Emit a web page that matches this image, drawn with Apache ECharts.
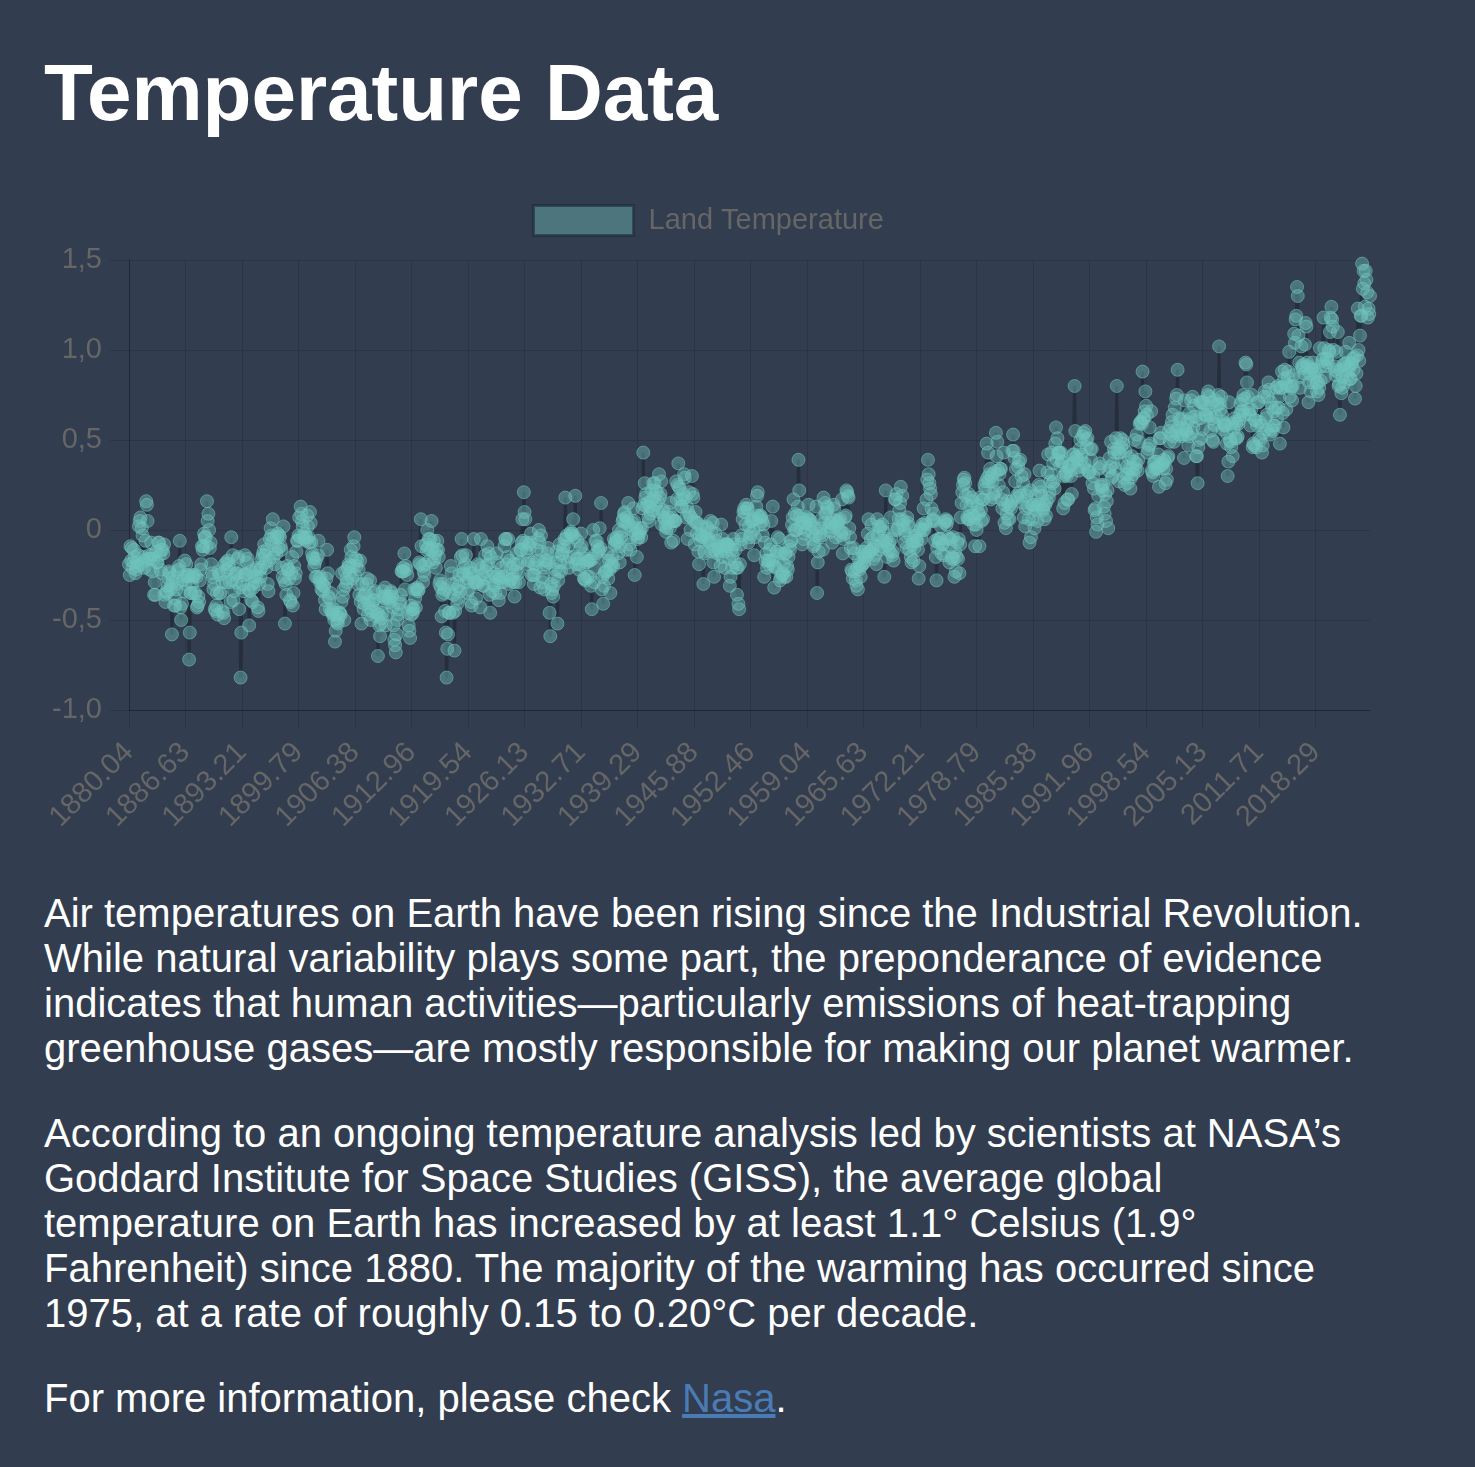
<!DOCTYPE html>
<html>
<head>
<meta charset="utf-8">
<title>Temperature Data</title>
<script src="https://cdn.jsdelivr.net/npm/echarts@6/dist/echarts.min.js"></script>
<style>
	html, body { margin: 0; padding: 0; background: #323d4f; }
	body { width: 1475px; height: 1467px; position: relative; overflow: hidden;
		font-family: "Liberation Sans", Arial, Helvetica, sans-serif; color: #fff; }
	h1 { position: absolute; left: 44px; top: 53px; margin: 0; font-size: 80px; line-height: 80px; font-weight: bold; }
	#myChart { position: absolute; left: 0; top: 180px; width: 1475px; height: 680px; }
	.text { position: absolute; left: 44px; top: 891px; width: 1340px; font-size: 40px; line-height: 45px; }
	.text p { margin: 0 0 40px 0; white-space: nowrap; }
	.text a { color: #4b7bb5; }
</style>
</head>
<body>
<h1>Temperature Data</h1>
<div id="myChart"></div>
<div class="text">
	<p>Air temperatures on Earth have been rising since the Industrial Revolution.<br>While natural variability plays some part, the preponderance of evidence<br>indicates that human activities—particularly emissions of heat-trapping<br>greenhouse gases—are mostly responsible for making our planet warmer.</p>
	<p>According to an ongoing temperature analysis led by scientists at NASA’s<br>Goddard Institute for Space Studies (GISS), the average global<br>temperature on Earth has increased by at least 1.1° Celsius (1.9°<br>Fahrenheit) since 1880. The majority of the warming has occurred since<br>1975, at a rate of roughly 0.15 to 0.20°C per decade.</p>
	<p>For more information, please check <a href="#">Nasa</a>.</p>
</div>
<script>
// monthly anomalies, one line per year (Jan..Dec)
var startYear = 1880;
var monthFractions = ['04', '13', '21', '29', '38', '46', '54', '63', '71', '79', '88', '96'];

var t1880s = [
	-0.19,-0.25,-0.09,-0.17,-0.10,-0.21,-0.18,-0.11,-0.15,-0.24,-0.22,-0.18,
	-0.20,-0.14,0.02,0.05,0.07,-0.19,0.01,-0.03,-0.15,-0.21,-0.17,-0.06,
	0.16,0.14,0.05,-0.16,-0.14,-0.22,-0.16,-0.07,-0.14,-0.23,-0.16,-0.36,
	-0.29,-0.36,-0.12,-0.18,-0.18,-0.07,-0.07,-0.14,-0.22,-0.11,-0.24,-0.11,
	-0.13,-0.08,-0.36,-0.40,-0.34,-0.35,-0.31,-0.27,-0.23,-0.24,-0.33,-0.31,
	-0.58,-0.29,-0.26,-0.42,-0.38,-0.42,-0.33,-0.30,-0.23,-0.22,-0.20,-0.06,
	-0.43,-0.50,-0.41,-0.28,-0.26,-0.34,-0.17,-0.30,-0.19,-0.25,-0.26,-0.25,
	-0.72,-0.57,-0.35,-0.35,-0.30,-0.25,-0.26,-0.35,-0.25,-0.35,-0.26,-0.43,
	-0.42,-0.37,-0.40,-0.28,-0.22,-0.19,-0.09,-0.11,-0.09,-0.02,-0.04,-0.04,
	-0.09,0.16,0.05,0.09,0.00,-0.10,-0.07,-0.19,-0.24,-0.26,-0.33,-0.30
];
var t1890s = [
	-0.44,-0.45,-0.42,-0.35,-0.47,-0.23,-0.25,-0.35,-0.35,-0.24,-0.45,-0.29,
	-0.46,-0.49,-0.19,-0.29,-0.18,-0.22,-0.17,-0.19,-0.21,-0.29,-0.40,-0.04,
	-0.28,-0.14,-0.39,-0.34,-0.25,-0.24,-0.29,-0.24,-0.16,-0.15,-0.44,-0.32,
	-0.82,-0.57,-0.23,-0.30,-0.34,-0.25,-0.14,-0.25,-0.24,-0.18,-0.16,-0.33,
	-0.53,-0.34,-0.23,-0.39,-0.30,-0.40,-0.32,-0.26,-0.29,-0.22,-0.26,-0.21,
	-0.43,-0.45,-0.30,-0.22,-0.26,-0.21,-0.16,-0.14,-0.12,-0.08,-0.14,-0.18,
	-0.21,-0.11,-0.30,-0.34,-0.17,-0.05,0.01,-0.03,-0.07,0.06,-0.15,-0.04,
	-0.19,-0.11,-0.13,-0.04,-0.02,-0.10,-0.03,-0.04,-0.09,-0.11,-0.21,-0.26,
	0.02,-0.28,-0.52,-0.30,-0.36,-0.20,-0.22,-0.22,-0.27,-0.39,-0.40,-0.24,
	-0.15,-0.42,-0.35,-0.20,-0.27,-0.24,-0.12,-0.06,-0.06,-0.03,0.07,-0.04
];
var t1900s = [
	0.13,0.09,0.05,0.02,-0.04,-0.05,-0.02,-0.06,-0.04,0.08,0.02,-0.04,
	-0.07,0.10,0.04,-0.07,-0.13,-0.15,-0.16,-0.20,-0.18,-0.26,-0.16,-0.26,
	-0.14,-0.06,-0.27,-0.29,-0.26,-0.33,-0.30,-0.34,-0.31,-0.31,-0.39,-0.44,
	-0.27,-0.11,-0.24,-0.37,-0.38,-0.44,-0.35,-0.45,-0.46,-0.47,-0.44,-0.50,
	-0.62,-0.56,-0.47,-0.51,-0.52,-0.49,-0.46,-0.46,-0.47,-0.40,-0.24,-0.37,
	-0.33,-0.50,-0.23,-0.31,-0.27,-0.29,-0.21,-0.19,-0.20,-0.24,-0.11,-0.15,
	-0.27,-0.20,-0.09,-0.04,-0.25,-0.16,-0.20,-0.17,-0.30,-0.22,-0.36,-0.17,
	-0.40,-0.52,-0.30,-0.37,-0.44,-0.41,-0.36,-0.35,-0.30,-0.27,-0.47,-0.40,
	-0.43,-0.28,-0.50,-0.45,-0.41,-0.39,-0.35,-0.39,-0.34,-0.46,-0.48,-0.45,
	-0.70,-0.47,-0.53,-0.59,-0.52,-0.49,-0.46,-0.34,-0.37,-0.38,-0.32,-0.53
];
var t1910s = [
	-0.37,-0.40,-0.47,-0.38,-0.37,-0.40,-0.34,-0.35,-0.37,-0.43,-0.53,-0.61,
	-0.64,-0.68,-0.58,-0.50,-0.47,-0.44,-0.41,-0.40,-0.36,-0.23,-0.23,-0.21,
	-0.23,-0.13,-0.33,-0.20,-0.22,-0.25,-0.46,-0.53,-0.56,-0.60,-0.42,-0.47,
	-0.44,-0.46,-0.44,-0.33,-0.38,-0.43,-0.33,-0.32,-0.34,-0.33,-0.18,-0.19,
	0.06,-0.09,-0.20,-0.29,-0.23,-0.25,-0.19,-0.08,-0.11,0.00,-0.10,-0.05,
	-0.17,-0.05,-0.11,0.05,-0.10,-0.18,-0.06,-0.16,-0.13,-0.21,-0.11,-0.06,
	-0.11,-0.15,-0.30,-0.28,-0.32,-0.48,-0.36,-0.30,-0.35,-0.33,-0.45,-0.57,
	-0.82,-0.66,-0.58,-0.46,-0.46,-0.35,-0.20,-0.24,-0.30,-0.46,-0.36,-0.67,
	-0.45,-0.33,-0.29,-0.41,-0.38,-0.31,-0.25,-0.34,-0.15,-0.05,-0.14,-0.24,
	-0.21,-0.25,-0.19,-0.14,-0.29,-0.35,-0.27,-0.33,-0.24,-0.21,-0.40,-0.42
];
var t1920s = [
	-0.24,-0.26,-0.05,-0.29,-0.29,-0.38,-0.29,-0.30,-0.19,-0.20,-0.28,-0.43,
	-0.05,-0.21,-0.25,-0.31,-0.31,-0.27,-0.14,-0.23,-0.20,-0.09,-0.19,-0.13,
	-0.36,-0.46,-0.15,-0.26,-0.34,-0.30,-0.24,-0.31,-0.35,-0.26,-0.13,-0.18,
	-0.25,-0.39,-0.27,-0.35,-0.29,-0.21,-0.26,-0.29,-0.26,-0.09,-0.05,-0.05,
	-0.19,-0.15,-0.05,-0.30,-0.17,-0.28,-0.21,-0.27,-0.25,-0.29,-0.19,-0.37,
	-0.29,-0.23,-0.13,-0.19,-0.24,-0.29,-0.18,-0.11,-0.11,-0.07,0.06,-0.06,
	0.21,0.10,0.06,-0.07,-0.12,-0.19,-0.17,-0.08,-0.10,-0.07,-0.02,-0.25,
	-0.18,-0.25,-0.30,-0.25,-0.19,-0.21,-0.11,-0.17,-0.05,0.00,-0.07,-0.32,
	-0.03,-0.12,-0.29,-0.26,-0.21,-0.33,-0.17,-0.19,-0.17,-0.13,-0.10,-0.18,
	-0.46,-0.59,-0.30,-0.35,-0.33,-0.37,-0.31,-0.26,-0.22,-0.18,-0.12,-0.52
];
var t1930s = [
	-0.28,-0.23,-0.08,-0.18,-0.23,-0.14,-0.13,-0.11,-0.09,-0.05,0.18,-0.05,
	-0.03,-0.18,-0.09,-0.21,-0.15,-0.02,-0.01,-0.03,-0.02,0.06,-0.15,-0.04,
	0.19,-0.19,-0.16,-0.06,-0.16,-0.22,-0.19,-0.10,-0.02,-0.09,-0.20,-0.13,
	-0.27,-0.27,-0.28,-0.16,-0.18,-0.26,-0.17,-0.17,-0.26,-0.17,-0.31,-0.44,
	-0.16,0.00,-0.29,-0.21,-0.06,-0.13,-0.06,-0.09,-0.12,-0.11,0.01,-0.10,
	0.15,-0.33,-0.26,-0.41,-0.31,-0.24,-0.23,-0.17,-0.23,-0.13,-0.27,-0.17,
	-0.22,-0.35,-0.20,-0.19,-0.15,-0.20,-0.05,-0.08,-0.06,-0.07,-0.04,-0.06,
	-0.13,0.00,-0.18,-0.09,-0.04,-0.01,0.05,0.06,0.09,0.10,0.04,-0.11,
	0.07,0.05,0.15,0.03,-0.08,-0.11,-0.04,0.00,0.04,0.12,0.05,-0.25,
	-0.02,0.01,-0.15,-0.05,-0.04,-0.02,-0.01,0.01,-0.04,0.01,0.12,0.43
];
var t1940s = [
	0.14,0.26,0.18,0.20,0.13,0.15,0.07,0.05,0.13,0.09,0.16,0.22,
	0.11,0.26,0.18,0.26,0.22,0.14,0.21,0.16,0.10,0.31,0.18,0.20,
	0.27,0.03,0.10,0.11,0.07,0.06,0.02,-0.01,0.01,0.04,0.07,0.10,
	0.01,0.15,-0.07,0.07,0.05,-0.06,0.05,0.05,0.05,0.27,0.17,0.25,
	0.37,0.24,0.23,0.17,0.13,0.13,0.17,0.20,0.31,0.29,0.18,0.07,
	0.13,-0.05,0.10,0.21,0.08,0.00,0.07,0.30,0.20,0.18,0.05,-0.08,
	0.10,0.04,-0.02,0.04,-0.12,-0.19,-0.03,-0.06,0.02,-0.03,-0.04,-0.30,
	-0.12,-0.13,-0.02,0.02,-0.05,0.01,-0.06,-0.05,-0.07,0.05,-0.01,-0.12,
	0.04,-0.18,-0.26,-0.11,-0.02,-0.06,-0.13,-0.10,-0.11,-0.09,-0.12,-0.20,
	0.03,-0.15,-0.05,-0.09,-0.08,-0.21,-0.12,-0.08,-0.08,-0.08,-0.09,-0.16
];
var t1950s = [
	-0.31,-0.26,-0.11,-0.21,-0.14,-0.05,-0.08,-0.18,-0.11,-0.21,-0.36,-0.21,
	-0.41,-0.44,-0.19,-0.08,-0.03,-0.05,0.06,0.10,0.12,0.10,0.03,0.14,
	0.12,0.12,-0.07,0.02,-0.04,-0.02,0.05,0.05,0.06,0.00,-0.14,-0.04,
	0.06,0.13,0.19,0.21,0.08,0.07,0.03,0.08,0.07,0.05,-0.03,0.03,
	-0.26,-0.07,-0.17,-0.13,-0.21,-0.17,-0.19,-0.17,-0.11,-0.08,0.05,-0.17,
	0.13,-0.20,-0.32,-0.20,-0.21,-0.12,-0.12,-0.04,-0.14,-0.05,-0.28,-0.26,
	-0.13,-0.25,-0.24,-0.19,-0.26,-0.13,-0.13,-0.26,-0.20,-0.22,-0.15,-0.09,
	-0.11,-0.06,-0.06,0.03,0.07,0.17,0.00,0.09,0.00,0.00,0.08,0.13,
	0.39,0.22,0.08,0.01,0.04,-0.08,0.06,-0.05,-0.02,0.04,0.04,0.00,
	0.07,0.06,0.14,0.06,0.03,0.05,0.03,-0.01,-0.05,-0.09,-0.08,0.01
];
var t1960s = [
	-0.03,0.13,-0.35,-0.18,-0.12,-0.04,-0.02,0.01,0.06,-0.03,-0.11,0.18,
	0.04,0.15,0.09,0.10,0.13,0.12,0.00,0.02,0.04,-0.01,0.04,-0.07,
	0.06,0.14,0.12,0.02,-0.04,0.05,0.04,0.04,0.05,0.00,0.06,-0.03,
	-0.01,0.17,-0.13,-0.05,-0.02,0.07,0.08,0.22,0.21,0.19,0.18,0.01,
	-0.04,-0.10,-0.22,-0.23,-0.27,-0.10,-0.13,-0.23,-0.28,-0.31,-0.21,-0.33,
	-0.16,-0.22,-0.19,-0.26,-0.20,-0.12,-0.19,-0.14,-0.18,-0.12,-0.15,-0.10,
	-0.14,-0.02,0.06,-0.12,-0.12,-0.05,0.03,-0.11,-0.04,-0.16,-0.08,-0.14,
	-0.09,-0.19,0.06,-0.03,0.02,-0.11,0.01,0.02,-0.09,0.03,-0.06,-0.01,
	-0.26,-0.06,0.22,-0.05,-0.15,-0.08,-0.11,-0.07,-0.12,0.07,-0.05,-0.14,
	-0.12,-0.17,0.00,0.17,0.17,0.20,0.00,0.01,0.06,0.11,0.15,0.24
];
var t1970s = [
	0.06,0.19,0.03,0.05,0.00,-0.07,-0.03,-0.10,0.07,0.04,0.02,-0.11,
	-0.03,-0.15,-0.18,-0.08,-0.06,-0.17,-0.10,-0.03,-0.04,-0.06,-0.06,-0.11,
	-0.27,-0.20,0.00,0.01,-0.05,0.03,0.00,0.12,0.00,0.04,0.03,0.17,
	0.28,0.39,0.31,0.26,0.23,0.20,0.12,0.05,0.06,0.09,0.05,-0.06,
	-0.15,-0.28,-0.10,-0.05,-0.07,-0.05,-0.05,0.02,-0.13,-0.08,-0.08,-0.14,
	0.04,0.05,0.06,0.03,0.05,-0.04,-0.05,-0.18,-0.09,-0.05,-0.16,-0.15,
	-0.04,-0.16,-0.26,-0.12,-0.23,-0.15,-0.07,-0.16,-0.05,-0.24,-0.08,0.07,
	0.15,0.21,0.25,0.28,0.29,0.26,0.19,0.14,0.07,0.06,0.20,0.06,
	0.08,0.13,0.18,0.16,0.08,0.03,0.07,-0.09,0.03,0.00,0.14,0.10,
	0.09,-0.09,0.18,0.11,0.05,0.17,0.06,0.17,0.25,0.23,0.27,0.48
];
var t1980s = [
	0.29,0.43,0.27,0.31,0.34,0.17,0.30,0.27,0.20,0.18,0.32,0.21,
	0.54,0.41,0.49,0.33,0.25,0.31,0.34,0.34,0.17,0.12,0.21,0.43,
	0.04,0.14,0.01,0.09,0.16,0.06,0.13,0.06,0.14,0.12,0.16,0.44,
	0.53,0.44,0.40,0.27,0.34,0.19,0.18,0.35,0.38,0.21,0.39,0.19,
	0.30,0.15,0.26,0.07,0.31,0.02,0.12,0.19,0.21,0.13,0.06,-0.07,
	0.22,-0.04,0.14,0.06,0.14,0.12,0.01,0.19,0.11,0.13,0.05,0.14,
	0.25,0.33,0.24,0.21,0.19,0.12,0.11,0.14,0.06,0.14,0.08,0.16,
	0.32,0.42,0.18,0.21,0.27,0.31,0.43,0.26,0.37,0.27,0.23,0.48,
	0.57,0.39,0.51,0.43,0.43,0.43,0.36,0.43,0.38,0.38,0.12,0.30,
	0.15,0.31,0.32,0.30,0.17,0.17,0.35,0.36,0.33,0.30,0.20,0.37
];
var t1990s = [
	0.42,0.42,0.80,0.55,0.40,0.41,0.39,0.35,0.33,0.45,0.50,0.39,
	0.42,0.52,0.35,0.54,0.37,0.55,0.50,0.46,0.51,0.33,0.32,0.32,
	0.45,0.39,0.45,0.26,0.30,0.23,0.11,0.12,-0.01,0.07,0.03,0.19,
	0.34,0.37,0.35,0.25,0.24,0.22,0.25,0.13,0.09,0.20,0.05,0.16,
	0.22,0.01,0.33,0.40,0.35,0.49,0.29,0.30,0.37,0.45,0.43,0.34,
	0.51,0.80,0.45,0.43,0.27,0.43,0.51,0.46,0.37,0.50,0.48,0.29,
	0.25,0.44,0.31,0.35,0.26,0.31,0.40,0.34,0.23,0.29,0.41,0.34,
	0.31,0.38,0.50,0.34,0.37,0.53,0.33,0.39,0.49,0.59,0.60,0.60,
	0.59,0.88,0.62,0.62,0.66,0.77,0.69,0.64,0.43,0.45,0.47,0.57,
	0.48,0.66,0.33,0.32,0.30,0.37,0.38,0.34,0.38,0.35,0.34,0.42
];
var t2000s = [
	0.24,0.51,0.51,0.54,0.36,0.37,0.34,0.39,0.38,0.26,0.34,0.28,
	0.40,0.41,0.55,0.49,0.57,0.53,0.60,0.64,0.52,0.49,0.68,0.55,
	0.73,0.75,0.89,0.57,0.62,0.53,0.61,0.52,0.62,0.53,0.56,0.40,
	0.72,0.56,0.55,0.53,0.60,0.47,0.52,0.65,0.62,0.72,0.54,0.74,
	0.57,0.69,0.63,0.61,0.41,0.41,0.26,0.46,0.50,0.62,0.71,0.51,
	0.71,0.56,0.71,0.70,0.64,0.67,0.64,0.63,0.75,0.77,0.74,0.64,
	0.55,0.71,0.62,0.50,0.49,0.59,0.58,0.72,0.63,0.69,0.70,0.75,
	1.02,0.70,0.67,0.74,0.64,0.56,0.60,0.59,0.58,0.58,0.54,0.48,
	0.30,0.38,0.71,0.50,0.49,0.46,0.59,0.41,0.56,0.62,0.60,0.51,
	0.59,0.51,0.52,0.59,0.61,0.64,0.70,0.66,0.72,0.66,0.75,0.64
];
var t2010s = [
	0.73,0.93,0.92,0.82,0.74,0.67,0.65,0.64,0.58,0.67,0.75,0.46,
	0.48,0.47,0.61,0.61,0.46,0.58,0.71,0.71,0.51,0.60,0.50,0.58,
	0.43,0.47,0.54,0.74,0.77,0.62,0.56,0.64,0.74,0.82,0.78,0.53,
	0.71,0.56,0.68,0.55,0.58,0.66,0.58,0.68,0.79,0.62,0.80,0.68,
	0.74,0.48,0.79,0.79,0.88,0.65,0.57,0.84,0.89,0.81,0.67,0.80,
	0.85,0.88,0.99,0.74,0.80,0.79,0.72,0.80,0.86,1.09,1.04,1.17,
	1.19,1.35,1.30,1.08,0.93,0.79,0.85,1.02,0.91,0.90,0.92,0.87,
	1.03,1.15,1.13,0.93,0.91,0.71,0.82,0.87,0.77,0.90,0.89,0.93,
	0.82,0.85,0.89,0.87,0.82,0.77,0.82,0.75,0.79,1.01,0.83,0.91,
	0.94,0.95,1.18,1.01,0.85,0.91,0.95,0.95,0.93,1.00,0.99,1.10
];
var t2020s = [
	1.18,1.24,1.17,1.13,1.00,0.91,0.89,0.86,0.99,0.88,1.10,0.80,
	0.81,0.64,0.89,0.76,0.79,0.85,0.92,0.82,0.92,0.99,0.93,0.86,
	0.91,0.89,1.04,0.84,0.84,0.92,0.93,0.95,0.89,0.96,0.73,0.80,
	0.87,0.97,1.23,1.00,0.94,1.08,1.19,1.19,1.48,1.34,1.44,1.37,
	1.24,1.44,1.39,1.32,1.18,1.23,1.20,1.30
];

var yTickValues = [-1, -0.5, 0, 0.5, 1, 1.5];
var yTickLabels = ['-1,0', '-0,5', '0', '0,5', '1,0', '1,5'];

var temps = [].concat(t1880s, t1890s, t1900s, t1910s, t1920s, t1930s, t1940s,
	t1950s, t1960s, t1970s, t1980s, t1990s, t2000s, t2010s, t2020s);

// category labels like 1880.04, 1880.13 ...
var labels = [];
for (var i = 0; i < temps.length; i++) {
	labels.push((startYear + Math.floor(i / 12)) + '.' + monthFractions[i % 12]);
}

var gridColor = 'rgba(0,0,0,0.12)';
var axisColor = 'rgba(0,0,0,0.25)';
var labelColor = '#666';
var fontFamily = '"Liberation Sans", Arial, Helvetica, sans-serif';

var myChart = echarts.init(document.getElementById('myChart'));
myChart.setOption({
	animation: false,
	textStyle: { fontFamily: fontFamily },
	legend: {
		left: 527,
		top: 19,
		icon: 'rect',
		itemWidth: 100,
		itemHeight: 30,
		selectedMode: false,
		data: ['Land Temperature'],
		itemStyle: { color: 'rgba(112,196,190,0.42)', borderColor: 'rgba(28,36,48,0.55)', borderWidth: 3 },
		textStyle: { color: labelColor, fontSize: 29, padding: [0, 0, 0, 10] }
	},
	grid: { left: 129, top: 80, width: 1241, height: 450 },
	xAxis: {
		type: 'category',
		data: labels,
		boundaryGap: false,
		axisLine: { onZero: false, lineStyle: { color: axisColor, width: 1 } },
		axisTick: { show: true, interval: 78, length: 19, lineStyle: { color: gridColor } },
		axisLabel: { interval: 78, rotate: 45, color: labelColor, fontSize: 29, margin: 38 },
		splitLine: { show: true, interval: 78, lineStyle: { color: gridColor, width: 1 } }
	},
	yAxis: {
		type: 'value',
		min: -1,
		max: 1.5,
		interval: 0.5,
		axisLine: { show: true, lineStyle: { color: axisColor, width: 1 } },
		axisTick: { show: true, length: 19, lineStyle: { color: gridColor } },
		axisLabel: {
			color: labelColor, fontSize: 29, margin: 27,
			formatter: function (v) {
				var k = yTickValues.indexOf(v);
				return k >= 0 ? yTickLabels[k] : '';
			}
		},
		splitLine: { show: true, lineStyle: { color: gridColor, width: 1 } }
	},
	series: [{
		name: 'Land Temperature',
		type: 'line',
		data: temps,
		symbol: 'circle',
		symbolSize: 13,
		showAllSymbol: true,
		clip: false,
		silent: true,
		itemStyle: { color: 'rgba(112,196,190,0.42)', borderColor: 'rgba(112,196,190,0.55)', borderWidth: 1 },
		lineStyle: { color: 'rgba(25,32,42,0.5)', width: 3 },
		emphasis: { disabled: true }
	}]
});
</script>
</body>
</html>
